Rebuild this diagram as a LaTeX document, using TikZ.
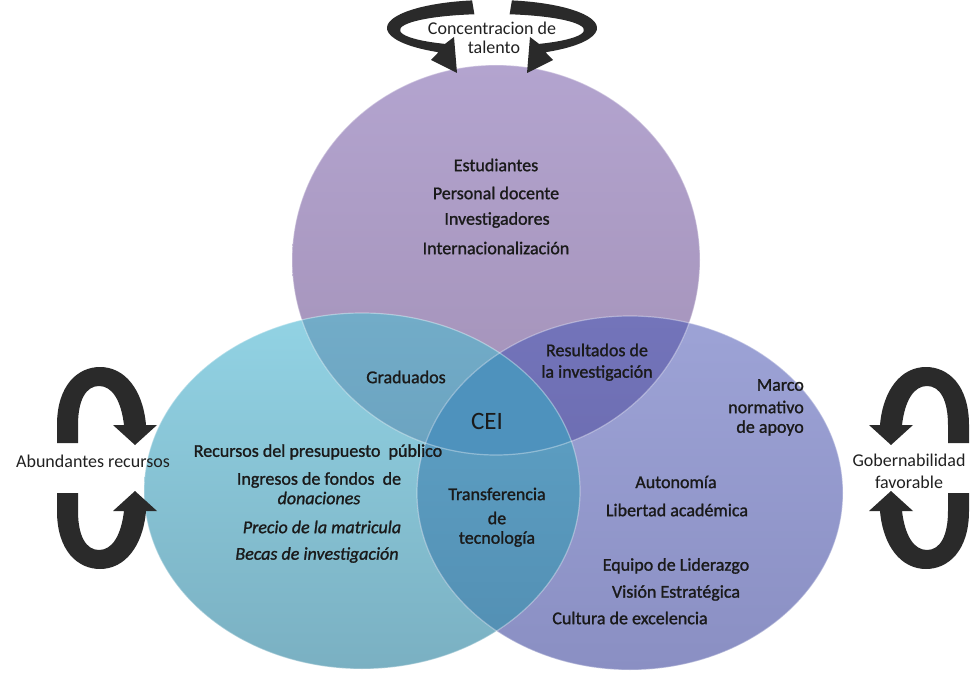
\documentclass[tikz,border=0pt]{standalone}
\usepackage{fontspec}
\setmainfont{Carlito}
\newfontfamily\embfont[FakeBold=1.2]{Carlito}
\definecolor{txt}{HTML}{1A1A1A}
\definecolor{otxt}{HTML}{202020}
\definecolor{arrc}{HTML}{2A2A2A}
\definecolor{pTop}{HTML}{B3A4CF}
\definecolor{pBot}{HTML}{A290B6}
\definecolor{tTop}{HTML}{92D3E4}
\definecolor{tBot}{HTML}{7AB0C2}
\definecolor{bTop}{HTML}{9DA3D6}
\definecolor{bBot}{HTML}{8A8FC3}
\definecolor{ptTop}{HTML}{72ACC8}
\definecolor{ptBot}{HTML}{6296B4}
\definecolor{pbTop}{HTML}{7374BA}
\definecolor{pbBot}{HTML}{6464A6}
\definecolor{tbTop}{HTML}{60A4C8}
\definecolor{tbBot}{HTML}{528EB2}
\definecolor{cei}{HTML}{4E92BD}
\tikzset{
  lbl/.style={font=\embfont\fontsize{18}{20}\selectfont, text=txt, inner sep=0pt},
  ilbl/.style={lbl, font=\embfont\fontsize{18}{20}\selectfont\itshape},
  rlbl/.style={lbl, anchor=east},
  olbl/.style={font=\fontsize{18}{20}\selectfont, text=otxt, inner sep=0pt},
  arr/.style={fill=arrc},
  rim/.style={draw=white, draw opacity=0.35, line width=1.2pt}
}
\begin{document}
\begin{tikzpicture}[x=1pt,y=1pt]
\useasboundingbox (0,0) rectangle (970,-674);

% --- three ellipses ---
\def\Pell{(496,-260) ellipse [x radius=204, y radius=195]}
\def\Tell{(362,-491) ellipse [x radius=218, y radius=178]}
\def\Bell{(630,-493) ellipse [x radius=213, y radius=177]}

\shade[top color=pTop, bottom color=pBot] \Pell;
\shade[top color=tTop, bottom color=tBot] \Tell;
\shade[top color=bTop, bottom color=bBot] \Bell;

\begin{scope}
  \clip \Pell;
  \shade[top color=ptTop, bottom color=ptBot] \Tell;
\end{scope}
\begin{scope}
  \clip \Pell;
  \shade[top color=pbTop, bottom color=pbBot] \Bell;
\end{scope}
\begin{scope}
  \clip \Tell;
  \shade[top color=tbTop, bottom color=tbBot] \Bell;
\end{scope}
\begin{scope}
  \clip \Pell;
  \clip \Tell;
  \fill[cei] \Bell;
\end{scope}

\path[rim] \Pell;
\path[rim] \Tell;
\path[rim] \Bell;

% --- top ring arrows ---
\def\toparrow{%
\fill[arr] (472.1,-0.4) arc[start angle=100, end angle=240, x radius=103, y radius=28]
  -- (431,-60) -- (457,-73) -- (454,-37) -- (445,-43.9)
  arc[start angle=240, end angle=100, x radius=90, y radius=16] -- cycle;}
\toparrow
\begin{scope}[xshift=984pt, xscale=-1]
\toparrow
\end{scope}

% --- side ring arrows ---
\def\sidearrow{%
\fill[arr] (57,-443) -- (57,-425) .. controls (57,-385) and (78,-367) .. (100,-367)
  .. controls (125,-367) and (143,-390) .. (146,-425) -- (157,-425) -- (135,-445)
  -- (113,-425) -- (124,-425) .. controls (121,-400) and (112,-386) .. (99,-386)
  .. controls (86,-386) and (78,-400) .. (78,-425) -- (78,-443) -- cycle;}
\sidearrow
\begin{scope}[yshift=-936pt, yscale=-1]
\sidearrow
\end{scope}
\begin{scope}[xshift=1026pt, xscale=-1]
\sidearrow
\end{scope}
\begin{scope}[xshift=1026pt, xscale=-1, yshift=-936pt, yscale=-1]
\sidearrow
\end{scope}

% --- outer labels ---
\node[olbl] (conc1) at (492,-28) {Concentracion de};
\node[olbl] (conc2) at (494,-47) {talento};
\node[olbl] (abund) at (93,-461) {Abundantes recursos};
\node[olbl] (gob1) at (909,-460) {Gobernabilidad};
\node[olbl] (gob2) at (909,-482) {favorable};

% --- purple circle ---
\node[lbl] (p1) at (496,-165) {Estudiantes};
\node[lbl] (p2) at (496,-193) {Personal docente};
\node[lbl] (p3) at (497,-220) {Investigadores};
\node[lbl] (p4) at (496,-248) {Internacionalización};

% --- overlaps ---
\node[lbl] (grad) at (406,-377) {Graduados};
\node[lbl] (res1) at (597,-350) {Resultados de};
\node[lbl] (res2) at (597,-373) {la investigación};
\node[lbl, font=\fontsize{25}{28}\selectfont] (cei) at (487,-421) {CEI};
\node[lbl] (tr1) at (497,-494) {Transferencia};
\node[lbl] (tr2) at (497,-518) {de};
\node[lbl] (tr3) at (497,-539) {tecnología};

% --- teal circle ---
\node[lbl] (t1) at (318,-452) {Recursos del presupuesto\ \ público};
\node[lbl] (t2) at (319,-480) {Ingresos de fondos\ \ de};
\node[ilbl] (t3) at (319,-498) {donaciones};
\node[ilbl] (t4) at (322,-527) {Precio de la matricula};
\node[ilbl] (t5) at (317,-555) {Becas de investigación};

% --- blue circle ---
\node[rlbl] (b1) at (804,-385) {Marco};
\node[rlbl] (b2) at (804,-407) {normativo};
\node[rlbl] (b3) at (804,-428) {de apoyo};
\node[lbl] (b4) at (676,-482) {Autonomía};
\node[lbl] (b5) at (677,-510) {Libertad académica};
\node[lbl] (b6) at (676,-566) {Equipo de Liderazgo};
\node[lbl] (b7) at (676,-593) {Visión Estratégica};
\node[lbl] (b8) at (630,-618) {Cultura de excelencia};
\end{tikzpicture}
\end{document}
